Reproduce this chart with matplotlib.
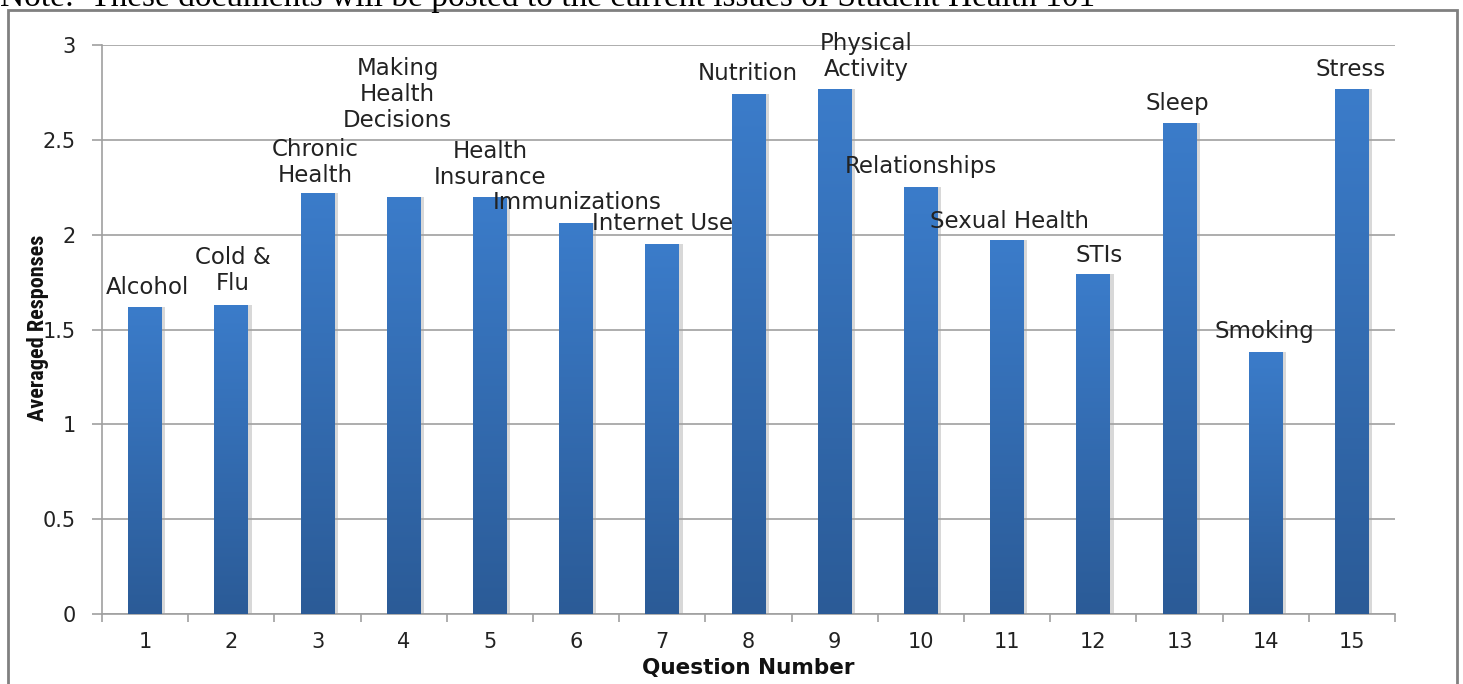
import matplotlib
matplotlib.use("Agg")
import matplotlib.pyplot as plt
import numpy as np
from matplotlib.colors import LinearSegmentedColormap
from matplotlib.patches import Rectangle
from matplotlib import font_manager

# data
questions = list(range(1, 16))
averages = [1.62, 1.63, 2.22, 2.20, 2.20, 2.06, 1.95, 2.74, 2.77, 2.25, 1.97, 1.79, 2.59, 1.38, 2.77]
topics = [
    "Alcohol", "Cold &\nFlu", "Chronic\nHealth", "Making\nHealth\nDecisions", "Health\nInsurance",
    "Immunizations", "Internet Use", "Nutrition", "Physical\nActivity", "Relationships",
    "Sexual Health", "STIs", "Sleep", "Smoking", "Stress",
]
yticks = [0, 0.5, 1, 1.5, 2, 2.5, 3]

# where the (hand moved) labels sit, in data units
label_pos = [
    (1.03, 1.72), (2.02, 1.81), (2.97, 2.38), (3.93, 2.74), (5.00, 2.37),
    (6.01, 2.17), (7.00, 2.06), (7.99, 2.85), (9.37, 2.94), (10.00, 2.36),
    (11.03, 2.07), (12.07, 1.89), (12.98, 2.69), (13.98, 1.49), (14.98, 2.87),
]

# a narrow bold face for the y title if one is around
installed = {f.name for f in font_manager.fontManager.ttflist}
narrow = [n for n in ["Liberation Sans Narrow", "Roboto Condensed", "DejaVu Sans Condensed"] if n in installed]
ylab_family = narrow + ["DejaVu Sans"]
ylab_size = 16 if narrow else 12

W, H = 1463, 684
fig = plt.figure(figsize=(W / 100, H / 100), dpi=100)
ax = fig.add_axes([102 / W, 1 - 614 / H, (1395 - 102) / W, (614 - 45) / H])

grey = "#a0a0a0"
bars = ax.bar(questions, averages, width=0.39, color="#3470b8", zorder=2)

# vertical gradient inside each bar
cmap = LinearSegmentedColormap.from_list("bar", ["#2b5b97", "#3b7cca"])
grad = np.linspace(0, 1, 256).reshape(-1, 1)
for b in bars:
    x0, w, h = b.get_x(), b.get_width(), b.get_height()
    # soft shadow to the right
    ax.add_patch(Rectangle((x0 + w, 0), 0.04, h, color="#d8d8d8", zorder=1, lw=0))
    im = ax.imshow(grad, cmap=cmap, origin="lower", aspect="auto",
                   extent=(x0, x0 + w, 0, h), zorder=3)
    im.set_clip_path(b)

for (lx, ly), t in zip(label_pos, topics):
    ax.text(lx, ly, t, ha="center", va="center", fontsize=16.5, color="#222222",
            linespacing=1.15, zorder=4)

ax.set_xlim(0.5, 15.5)
ax.set_ylim(0, 3)
ax.set_xticks(questions)
ax.set_xticks(np.arange(0.5, 16, 1), minor=True)
ax.set_yticks(yticks)
ax.set_yticklabels([f"{v:g}" for v in yticks])
ax.tick_params(axis="x", which="major", length=0, pad=13, labelsize=15, labelcolor="#222222")
ax.tick_params(axis="x", which="minor", length=6, color=grey, width=1.2)
ax.tick_params(axis="y", length=7, color=grey, width=1.2, pad=12, labelsize=15, labelcolor="#222222")
ax.grid(axis="y", color=grey, lw=1.2, zorder=0)
for s in ["top", "right"]:
    ax.spines[s].set_visible(False)
for s in ["left", "bottom"]:
    ax.spines[s].set_color(grey)
    ax.spines[s].set_linewidth(1.2)

fig.text(748 / W, 1 - 668 / H, "Question Number", ha="center", va="center",
         fontsize=15.5, fontweight="bold", color="#111111")
fig.text(38 / W, 1 - 328 / H, "Averaged Responses", ha="center", va="center", rotation=90,
         fontsize=ylab_size, fontweight="bold", color="#111111", family=ylab_family)

# outer frame of the pasted chart and the cut-off note above it
fig.patches.append(Rectangle((8 / W, -0.1), (1457 - 8) / W, 1.1 - 10 / H, transform=fig.transFigure,
                             fill=False, ec="#808080", lw=2))
fig.text(0.0, 1 - 6 / H, "Note:  These documents will be posted to the current issues of Student Health 101",
         ha="left", va="baseline", fontsize=24, family="Liberation Serif", color="black")

fig.savefig("out.png", dpi=100)
